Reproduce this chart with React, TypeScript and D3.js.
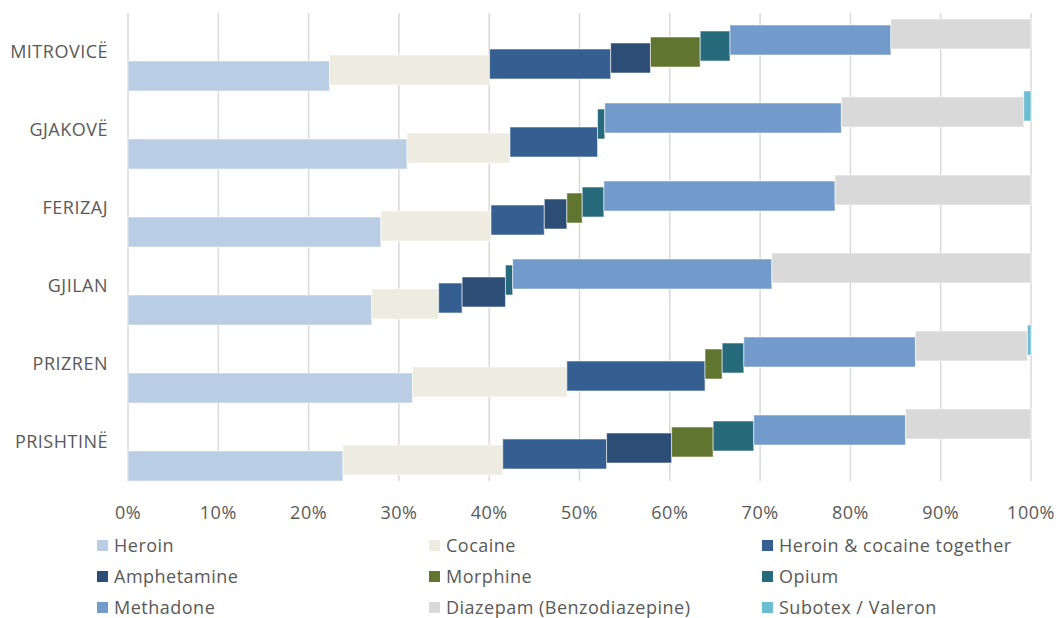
import React from 'react'
import * as d3 from 'd3'

const width = 1057
const height = 618
const margin = {top: 13, right: 26, bottom: 137, left: 128}
const innerWidth = width - margin.left - margin.right
const innerHeight = height - margin.top - margin.bottom

const categories = ['MITROVICË', 'GJAKOVË', 'FERIZAJ', 'GJILAN', 'PRIZREN', 'PRISHTINË']
const seriesNames = [
  'Heroin',
  'Cocaine',
  'Heroin & cocaine together',
  'Amphetamine',
  'Morphine',
  'Opium',
  'Methadone',
  'Diazepam (Benzodiazepine)',
  'Subotex / Valeron',
]
const colors = [
  '#b9cde5',
  '#eeece1',
  '#365f91',
  '#2c4d75',
  '#607530',
  '#276a7b',
  '#729aca',
  '#d9d9d9',
  '#6cbdd1',
]

// percentages per city, same order as categories
const heroin = [22.3, 30.9, 28.0, 27.0, 31.5, 23.8]
const cocaine = [17.7, 11.4, 12.2, 7.4, 17.1, 17.7]
const heroinCocaine = [13.4, 9.7, 5.9, 2.6, 15.3, 11.5]
const amphetamine = [4.4, 0, 2.5, 4.8, 0, 7.2]
const morphine = [5.5, 0, 1.7, 0, 1.9, 4.6]
const opium = [3.3, 0.8, 2.4, 0.8, 2.4, 4.5]
const methadone = [17.8, 26.2, 25.6, 28.7, 19.0, 16.8]
const diazepam = [15.5, 20.2, 21.7, 28.7, 12.4, 13.9]
const subotex = [0, 0.8, 0, 0, 0.4, 0]

const xTicks = [0, 0.1, 0.2, 0.3, 0.4, 0.5, 0.6, 0.7, 0.8, 0.9, 1]

const font = '"Open Sans", Lato, sans-serif'

const App = () => {
  const seriesValues = [heroin, cocaine, heroinCocaine, amphetamine, morphine, opium, methadone, diazepam, subotex]
  const rows = categories.map((c, i) => {
    const row: any = {city: c}
    seriesNames.forEach((s, j) => (row[s] = seriesValues[j][i]))
    return row
  })
  const stacked = d3.stack().keys(seriesNames).offset(d3.stackOffsetExpand)(rows)

  const x = d3.scaleLinear().domain([0, 1]).range([0, innerWidth])
  const y = d3.scaleBand().domain(categories).range([0, innerHeight]).padding(0)

  const bw = y.bandwidth()
  const barH = (bw * 30) / 78
  const step = (bw - barH) / (seriesNames.length - 1)

  const legendCols = [97, 429, 762]
  const legendRows = [546, 577, 608]

  return (
    <svg
      width={width}
      height={height}
      style={{position: 'absolute', left: 0, top: 0, fontFamily: font, letterSpacing: '0.5px'}}
    >
      <g transform={`translate(${margin.left},${margin.top})`}>
        {xTicks.map(t => (
          <line key={t} x1={x(t)} x2={x(t)} y1={0} y2={innerHeight} stroke="#d9d9d9" strokeWidth={1.5} />
        ))}
        {stacked.map((s, j) => (
          <g key={s.key}>
            {s.map((d, i) => {
              const w = x(d[1]) - x(d[0])
              if (w <= 0) return null
              return (
                <rect
                  key={i}
                  x={x(d[0])}
                  y={(y(categories[i]) as number) + bw - barH - step * j}
                  width={w}
                  height={barH}
                  fill={colors[j]}
                  stroke="#ffffff"
                  strokeOpacity={0.55}
                  strokeWidth={1}
                />
              )
            })}
          </g>
        ))}
        {categories.map(c => (
          <text
            key={c}
            x={-20}
            y={(y(c) as number) + bw / 2}
            dy="0.35em"
            textAnchor="end"
            fontSize={18}
            fill="#595959"
          >
            {c}
          </text>
        ))}
        {xTicks.map(t => (
          <text key={t} x={x(t)} y={innerHeight + 32} dy="0.35em" textAnchor="middle" fontSize={18} fill="#595959">
            {d3.format('.0%')(t)}
          </text>
        ))}
      </g>
      {seriesNames.map((s, j) => {
        const lx = legendCols[j % 3]
        const ly = legendRows[Math.floor(j / 3)]
        return (
          <g key={s} transform={`translate(${lx},${ly})`}>
            <rect x={0} y={-6} width={11} height={11} fill={colors[j]} />
            <text x={17} y={0} dy="0.35em" fontSize={18} fill="#595959">
              {s}
            </text>
          </g>
        )
      })}
    </svg>
  )
}

export default App
